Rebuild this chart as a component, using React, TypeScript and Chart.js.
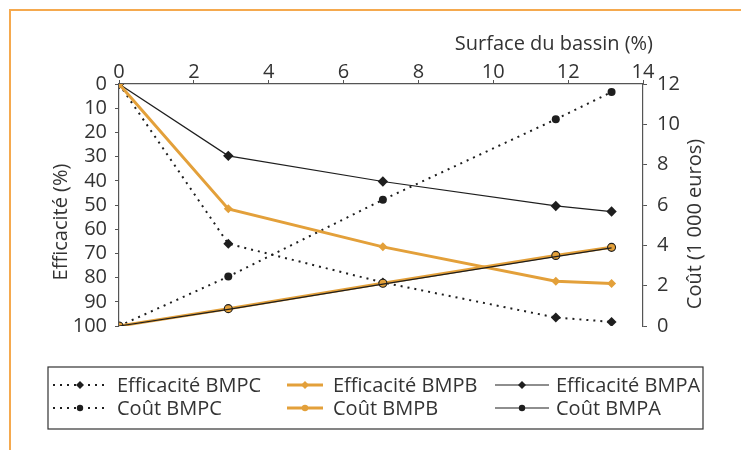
import React, { useEffect, useRef } from "react";
import { Chart, registerables } from "chart.js";

Chart.register(...registerables);

// ---- data ----
const surface = [0, 2.92, 7.05, 11.67, 13.16]; // Surface du bassin (%)
const effBMPC = [0, 66, 82, 96.5, 98.3];
const effBMPB = [0, 51.6, 67.3, 81.5, 82.4];
const effBMPA = [0, 29.7, 40.3, 50.4, 52.7];
const coutBMPC = [0, 2.45, 6.26, 10.25, 11.6];
const coutBMPB = [0, 0.86, 2.12, 3.5, 3.9];
const coutBMPA = [0, 0.82, 2.08, 3.44, 3.87];

const labels = [
  "Efficacité BMPC",
  "Efficacité BMPB",
  "Efficacité BMPA",
  "Coût BMPC",
  "Coût BMPB",
  "Coût BMPA",
];
const xTitle = "Surface du bassin (%)";
const yTitle = "Efficacité (%)";
const y2Title = "Coût (1 000 euros)";

const FONT = '"Open Sans", sans-serif';
const FS = 20;
const ORANGE = "#E3A03A";
const INK = "#1e1e1e";
const AXIS = "#555555";
const TEXT = "#333333";
const FRAME = "#F5A94E";

const pts = (ys: number[]) => surface.map((x, i) => ({ x, y: ys[i] }));

const legendBox = { left: 48, top: 367, right: 703, bottom: 429 };
const legendCols = [
  { x0: 53, x1: 107, tx: 117 },
  { x0: 287, x1: 323, tx: 333 },
  { x0: 495, x1: 549, tx: 556 },
];
const legendRows = [391.5, 414.5];

const decorPlugin = {
  id: "decor",
  beforeDraw(chart: any) {
    const ctx = chart.ctx;
    ctx.save();
    ctx.strokeStyle = FRAME;
    ctx.lineWidth = 2;
    ctx.beginPath();
    ctx.moveTo(10, 450);
    ctx.lineTo(10, 10);
    ctx.lineTo(741, 10);
    ctx.stroke();
    ctx.restore();
  },
  afterDraw(chart: any) {
    const ctx = chart.ctx;
    ctx.save();
    ctx.fillStyle = TEXT;
    ctx.font = `${FS}px ${FONT}`;
    ctx.textAlign = "right";
    ctx.textBaseline = "alphabetic";
    ctx.fillText(xTitle, 653, 49.5);
    ctx.save();
    ctx.translate(67, 222);
    ctx.rotate(-Math.PI / 2);
    ctx.textAlign = "center";
    ctx.fillText(yTitle, 0, 0);
    ctx.restore();
    ctx.save();
    ctx.translate(701, 224);
    ctx.rotate(-Math.PI / 2);
    ctx.textAlign = "center";
    ctx.fillText(y2Title, 0, 0);
    ctx.restore();

    ctx.strokeStyle = "#333";
    ctx.lineWidth = 1.2;
    ctx.strokeRect(
      legendBox.left,
      legendBox.top,
      legendBox.right - legendBox.left,
      legendBox.bottom - legendBox.top
    );
    chart.data.datasets.forEach((ds: any, i: number) => {
      const col = legendCols[i % 3];
      const y = legendRows[Math.floor(i / 3)];
      const my = y - 6.5;
      ctx.save();
      ctx.strokeStyle = ds.borderColor;
      ctx.lineWidth = ds.borderWidth;
      ctx.setLineDash(ds.borderDash || []);
      ctx.beginPath();
      ctx.moveTo(col.x0, my);
      ctx.lineTo(col.x1, my);
      ctx.stroke();
      ctx.setLineDash([]);
      const mx = (col.x0 + col.x1) / 2;
      ctx.fillStyle = ds.legendMarker;
      ctx.beginPath();
      if (ds.pointStyle === "rectRot") {
        const r = 4;
        ctx.moveTo(mx, my - r);
        ctx.lineTo(mx + r, my);
        ctx.lineTo(mx, my + r);
        ctx.lineTo(mx - r, my);
        ctx.closePath();
      } else {
        ctx.arc(mx, my, 3.2, 0, Math.PI * 2);
      }
      ctx.fill();
      ctx.restore();
      ctx.fillStyle = TEXT;
      ctx.textAlign = "left";
      ctx.textBaseline = "alphabetic";
      ctx.font = `${FS}px ${FONT}`;
      ctx.fillText(ds.label, col.tx, y);
    });
    ctx.restore();
  },
};

export default function App() {
  const ref = useRef<HTMLCanvasElement | null>(null);
  useEffect(() => {
    if (!ref.current) return;
    const tickFont = { family: FONT, size: FS, lineHeight: 1 };
    const chart = new Chart(ref.current, {
      type: "line",
      data: {
        datasets: [
          {
            label: labels[0],
            data: pts(effBMPC),
            yAxisID: "y",
            borderColor: INK,
            borderWidth: 2,
            borderDash: [2, 5],
            pointStyle: "rectRot",
            pointRadius: 5,
            pointBackgroundColor: INK,
            pointBorderColor: INK,
            pointBorderWidth: 0,
            legendMarker: INK,
            order: 5,
          } as any,
          {
            label: labels[1],
            data: pts(effBMPB),
            yAxisID: "y",
            borderColor: ORANGE,
            borderWidth: 3,
            pointStyle: "rectRot",
            pointRadius: 4.5,
            pointBackgroundColor: ORANGE,
            pointBorderColor: ORANGE,
            pointBorderWidth: 0,
            legendMarker: ORANGE,
            order: 3,
          } as any,
          {
            label: labels[2],
            data: pts(effBMPA),
            yAxisID: "y",
            borderColor: INK,
            borderWidth: 1.2,
            pointStyle: "rectRot",
            pointRadius: 5.2,
            pointBackgroundColor: INK,
            pointBorderColor: INK,
            pointBorderWidth: 0,
            legendMarker: INK,
            order: 4,
          } as any,
          {
            label: labels[3],
            data: pts(coutBMPC),
            yAxisID: "y2",
            borderColor: INK,
            borderWidth: 2,
            borderDash: [2, 5],
            pointStyle: "circle",
            pointRadius: 4,
            pointBackgroundColor: INK,
            pointBorderColor: INK,
            pointBorderWidth: 0,
            legendMarker: INK,
            order: 6,
          } as any,
          {
            label: labels[4],
            data: pts(coutBMPB),
            yAxisID: "y2",
            borderColor: ORANGE,
            borderWidth: 3,
            pointStyle: "circle",
            pointRadius: 4,
            pointBackgroundColor: ORANGE,
            pointBorderColor: INK,
            pointBorderWidth: 1.1,
            legendMarker: ORANGE,
            order: 2,
          } as any,
          {
            label: labels[5],
            data: pts(coutBMPA),
            yAxisID: "y2",
            borderColor: INK,
            borderWidth: 1.2,
            pointStyle: "circle",
            pointRadius: 0,
            pointBackgroundColor: INK,
            pointBorderColor: INK,
            legendMarker: INK,
            order: 1,
          } as any,
        ],
      },
      options: {
        responsive: false,
        animation: false,
        events: [],
        layout: { padding: { left: 0, right: 0, top: 0, bottom: 124 } },
        plugins: { legend: { display: false }, tooltip: { enabled: false } },
        elements: { line: { tension: 0 } },
        scales: {
          x: {
            type: "linear",
            position: "top",
            min: 0,
            max: 14,
            ticks: { stepSize: 2, color: TEXT, font: tickFont, padding: -2 },
            grid: { drawOnChartArea: false, tickLength: 4, color: AXIS },
            border: { color: AXIS, width: 1.2 },
            afterFit: (s: any) => {
              s.height = 84;
              s.paddingLeft = 0;
              s.paddingRight = 0;
            },
          },
          y: {
            type: "linear",
            position: "left",
            reverse: true,
            min: 0,
            max: 100,
            ticks: { stepSize: 10, color: TEXT, font: tickFont, padding: 8 },
            grid: { drawOnChartArea: false, tickLength: 4, color: AXIS },
            border: { color: AXIS, width: 1.2 },
            afterFit: (s: any) => {
              s.width = 119;
              s.paddingTop = 0;
              s.paddingBottom = 0;
            },
          },
          y2: {
            type: "linear",
            position: "right",
            min: 0,
            max: 12,
            ticks: { stepSize: 2, color: TEXT, font: tickFont, padding: 10 },
            grid: { drawOnChartArea: false, tickLength: 4, color: AXIS },
            border: { color: AXIS, width: 1.2 },
            afterFit: (s: any) => {
              s.width = 98;
              s.paddingTop = 0;
              s.paddingBottom = 0;
            },
          },
        },
      } as any,
      plugins: [decorPlugin],
    });
    return () => chart.destroy();
  }, []);

  return (
    <div style={{ position: "absolute", left: 0, top: 0, width: 741, height: 450, background: "#fff" }}>
      <canvas ref={ref} width={741} height={450} style={{ display: "block" }} />
    </div>
  );
}
